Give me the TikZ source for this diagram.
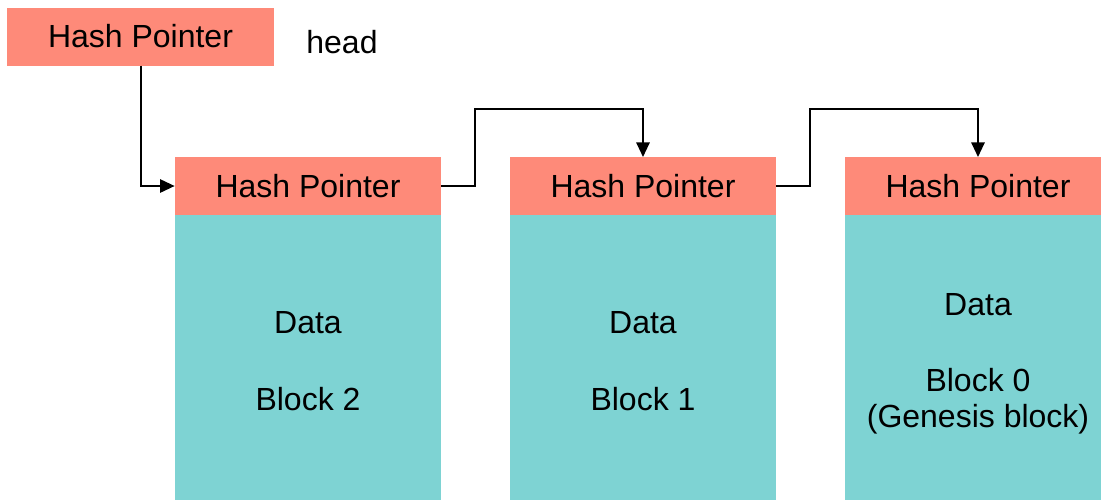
\documentclass[tikz,border=0pt]{standalone}
\usepackage{fontspec}
\setmainfont{Liberation Sans}
\usetikzlibrary{arrows.meta, positioning}
\definecolor{ptrred}{RGB}{254,138,121}
\definecolor{datateal}{RGB}{126,211,211}
\tikzset{
  ptr/.style={fill=ptrred, minimum width=200pt, minimum height=43.5pt, inner sep=0, outer sep=0, font=\fontsize{24}{27}\selectfont},
  datablock/.style={fill=datateal, minimum width=200pt, minimum height=214pt, inner sep=0, outer sep=0},
  lbl/.style={anchor=base, inner sep=0, font=\fontsize{24}{27}\selectfont},
  link/.style={-{Triangle[length=11pt, width=10pt]}, line width=1.5pt}
}
\begin{document}
\begin{tikzpicture}[x=0.75pt, y=-0.75pt]
\useasboundingbox (0,0) rectangle (1101,501);
% head pointer
\node (headptr)[ptr] at (140.5, 36.5) {Hash Pointer};
\node (headtxt)[lbl] at (342, 53) {head};
% blocks
\node (hp2)[ptr] at (308, 186) {Hash Pointer};
\node (hp1)[ptr] at (643, 186) {Hash Pointer};
\node (hp0)[ptr] at (978, 186) {Hash Pointer};
\node (d2)[datablock, below=0 of hp2] {};
\node (d1)[datablock, below=0 of hp1] {};
\node (d0)[datablock, below=0 of hp0] {};
% block texts
\node (d2a)[lbl] at (308, 333) {Data};
\node (d2b)[lbl] at (308, 410) {Block 2};
\node (d1a)[lbl] at (643, 333) {Data};
\node (d1b)[lbl] at (643, 410) {Block 1};
\node (d0a)[lbl] at (978, 315) {Data};
\node (d0b)[lbl] at (978, 391) {Block 0};
\node (d0c)[lbl] at (978, 427) {(Genesis block)};
% pointers
\draw[link] (headptr.south) |- (hp2.west);
\draw[link] (hp2.east) -- ++(34, 0) -- ++(0, -77) -| (hp1.north);
\draw[link] (hp1.east) -- ++(34, 0) -- ++(0, -77) -| (hp0.north);
\end{tikzpicture}
\end{document}
